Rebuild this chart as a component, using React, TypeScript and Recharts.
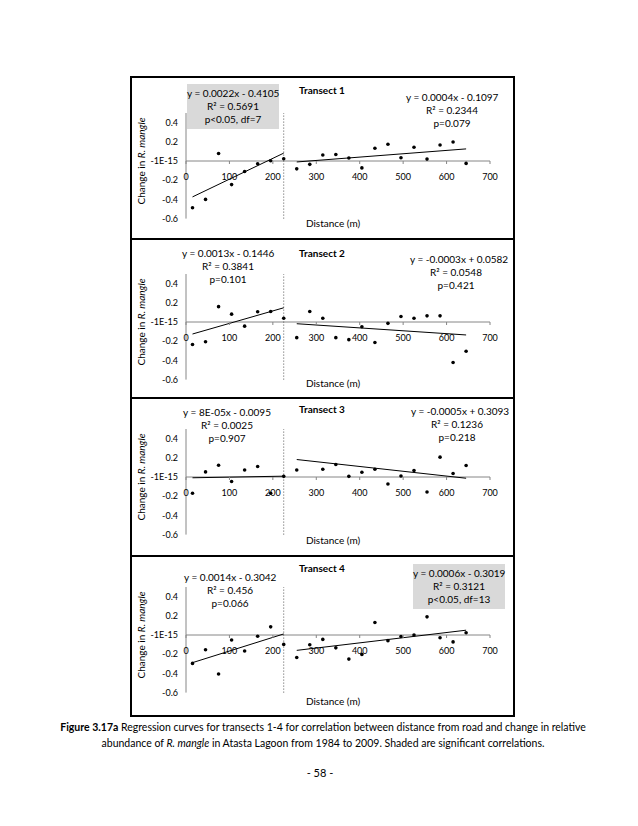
import React from "react";
import { ComposedChart, Scatter, XAxis, YAxis, ReferenceLine } from "recharts";

// distance from road (m), shared by all four transects
const distance = [15, 45, 75, 105, 135, 165, 195, 225, 255, 285, 315, 345, 375, 405, 435, 465, 495, 525, 555, 585, 615, 645];

// change in relative abundance of R. mangle
const transect1 = [-0.487, -0.4, 0.078, -0.246, -0.11, -0.028, 0.003, 0.024, -0.082, -0.035, 0.062, 0.068, 0.031, -0.072, 0.133, 0.175, 0.034, 0.144, 0.02, 0.167, 0.198, -0.025];
const transect2 = [-0.234, -0.206, 0.16, 0.082, -0.043, 0.106, 0.11, 0.039, -0.163, 0.11, 0.039, -0.163, -0.184, -0.05, -0.213, -0.014, 0.057, 0.039, 0.064, 0.064, -0.422, -0.305];
const transect3 = [-0.17, 0.053, 0.123, -0.047, 0.073, 0.11, -0.17, 0.007, 0.073, null, 0.08, 0.13, 0.007, 0.05, 0.08, -0.073, 0.01, 0.067, -0.157, 0.207, 0.037, 0.12];
const transect4 = [-0.296, -0.153, -0.407, -0.052, -0.166, -0.013, 0.085, -0.098, -0.235, -0.101, -0.046, -0.134, -0.251, -0.202, 0.13, -0.059, -0.016, 0, 0.189, -0.029, -0.072, 0.023];

// trend line ends: near side (15-225 m) and far side (255-645 m)
const nearEnds = [15, 225];
const farEnds = [255, 645];
const nearTrend = [[-0.374, 0.082], [-0.125, 0.148], [-0.008, 0.0085], [-0.288, 0.011]];
const farTrend = [[-0.01, 0.126], [-0.018, -0.135], [0.182, -0.013], [-0.16, 0.05]];

const titles = ["Transect 1", "Transect 2", "Transect 3", "Transect 4"];
const nearEq = [
  ["y = 0.0022x - 0.4105", "R² = 0.5691", "p<0.05, df=7"],
  ["y = 0.0013x - 0.1446", "R² = 0.3841", "p=0.101"],
  ["y = 8E-05x - 0.0095", "R² = 0.0025", "p=0.907"],
  ["y = 0.0014x - 0.3042", "R² = 0.456", "p=0.066"],
];
const farEq = [
  ["y = 0.0004x - 0.1097", "R² = 0.2344", "p=0.079"],
  ["y = -0.0003x + 0.0582", "R² = 0.0548", "p=0.421"],
  ["y = -0.0005x + 0.3093", "R² = 0.1236", "p=0.218"],
  ["y = 0.0006x - 0.3019", "R² = 0.3121", "p<0.05, df=13"],
];

const xTicks = [0, 100, 200, 300, 400, 500, 600, 700];
const yTicks = [-0.6, -0.4, -0.2, 0, 0.2, 0.4];
const roadEdge = 225;

const FONT = "Lato, 'Noto Sans', sans-serif";
const AXIS = "#868686";
const PX_PER_UNIT = 96;
const PLOT_H = 1.1 * PX_PER_UNIT;

// page layout of the four boxes
const panels = [
  { top: 76, bottom: 240, zero: 161, title: 90, dist: 223, near: [233, 94], far: [452, 98], shadeNear: true, shadeFar: false },
  { top: 238, bottom: 399, zero: 322, title: 253, dist: 383, near: [228, 254], far: [456, 260], shadeNear: false, shadeFar: false },
  { top: 397, bottom: 557, zero: 477, title: 409, dist: 540, near: [227, 413], far: [457, 412], shadeNear: false, shadeFar: false },
  { top: 555, bottom: 717, zero: 635, title: 568, dist: 701, near: [230, 578], far: [459, 574], shadeNear: false, shadeFar: true },
];
const series = [transect1, transect2, transect3, transect4];

const Dot = (props: any) => <circle cx={props.cx} cy={props.cy} r={1.8} fill="#000" />;

const XTick = ({ x, payload, zy }: any) => (
  <g>
    <line x1={x} x2={x} y1={zy} y2={zy + 3} stroke={AXIS} />
    <text x={x} y={zy + 15} textAnchor="middle" dominantBaseline="central" fontSize={9} fontFamily={FONT} fill="#000">
      {payload.value}
    </text>
  </g>
);

const Lines = ({ x, y, lines, shaded }: { x: number; y: number; lines: string[]; shaded: boolean }) => (
  <div
    style={{
      position: "absolute",
      left: x - 46,
      top: y - 10,
      width: 92,
      padding: "3px 0",
      background: shaded ? "#d9d9d9" : "transparent",
      textAlign: "center",
      fontSize: 10,
      lineHeight: "13px",
      whiteSpace: "nowrap",
    }}
  >
    {lines.map((l, i) => (
      <div key={i}>{l}</div>
    ))}
  </div>
);

function Panel({ i }: { i: number }) {
  const p = panels[i];
  const w = 381;
  const h = p.bottom - p.top - 4;
  const mTop = p.zero - 0.5 * PX_PER_UNIT - (p.top + 2);
  const mBottom = h - mTop - PLOT_H - 1;
  const zy = mTop + 0.5 * PX_PER_UNIT;
  const data = distance
    .map((x, k) => ({ x, y: series[i][k] }))
    .filter((d) => d.y !== null);
  return (
    <>
      <div
        style={{
          position: "absolute",
          left: 130,
          top: p.top,
          width: 385,
          height: p.bottom - p.top,
          border: "2px solid #000",
          boxSizing: "border-box",
        }}
      >
        <div style={{ position: "absolute", left: 0, top: 0 }}>
          <ComposedChart width={w} height={h} margin={{ top: mTop, right: 23, bottom: mBottom, left: 0 }}>
            <XAxis
              type="number"
              dataKey="x"
              domain={[0, 700]}
              ticks={xTicks}
              height={1}
              axisLine={false}
              tickLine={false}
              tick={(t: any) => <XTick {...t} zy={zy} />}
            />
            <YAxis
              type="number"
              dataKey="y"
              domain={[-0.6, 0.5]}
              ticks={yTicks}
              width={54}
              axisLine={{ stroke: AXIS }}
              tickLine={false}
              tick={{ fontSize: 9, fill: "#000", fontFamily: FONT }}
              tickFormatter={(v: number) => (v === 0 ? "-1E-15" : String(v))}
            />
            <ReferenceLine y={0} stroke={AXIS} />
            <ReferenceLine x={roadEdge} stroke="#555" strokeDasharray="1 2" />
            <ReferenceLine
              segment={[
                { x: nearEnds[0], y: nearTrend[i][0] },
                { x: nearEnds[1], y: nearTrend[i][1] },
              ]}
              stroke="#000"
            />
            <ReferenceLine
              segment={[
                { x: farEnds[0], y: farTrend[i][0] },
                { x: farEnds[1], y: farTrend[i][1] },
              ]}
              stroke="#000"
            />
            <Scatter data={data} shape={Dot} isAnimationActive={false} />
          </ComposedChart>
        </div>
      </div>
      <div style={{ position: "absolute", left: 272, width: 100, top: p.title - 7, textAlign: "center", fontSize: 10, fontWeight: 700, lineHeight: "14px" }}>
        {titles[i]}
      </div>
      <div style={{ position: "absolute", left: 283, width: 100, top: p.dist - 7, textAlign: "center", fontSize: 10, lineHeight: "14px" }}>
        Distance (m)
      </div>
      <div
        style={{
          position: "absolute",
          left: 141 - 70,
          top: p.zero - 7,
          width: 140,
          textAlign: "center",
          fontSize: 10,
          lineHeight: "14px",
          transform: "rotate(-90deg)",
          whiteSpace: "nowrap",
        }}
      >
        Change in <i>R. mangle</i>
      </div>
      <Lines x={p.near[0]} y={p.near[1]} lines={nearEq[i]} shaded={p.shadeNear} />
      <Lines x={p.far[0]} y={p.far[1]} lines={farEq[i]} shaded={p.shadeFar} />
    </>
  );
}

export default function App() {
  return (
    <div style={{ position: "absolute", left: 0, top: 0, width: 638, height: 826, background: "#fff", fontFamily: FONT, color: "#000" }}>
      {[0, 1, 2, 3].map((i) => (
        <Panel key={i} i={i} />
      ))}
      <div style={{ position: "absolute", left: 40, width: 566, top: 719, textAlign: "center", fontSize: 10.5, lineHeight: "16px" }}>
        <b>Figure 3.17a</b> Regression curves for transects 1-4 for correlation between distance from road and change in relative
        <br />
        abundance of <i>R. mangle</i> in Atasta Lagoon from 1984 to 2009. Shaded are significant correlations.
      </div>
      <div style={{ position: "absolute", left: 270, width: 100, top: 765, textAlign: "center", fontSize: 11, lineHeight: "16px" }}>
        - 58 -
      </div>
    </div>
  );
}
